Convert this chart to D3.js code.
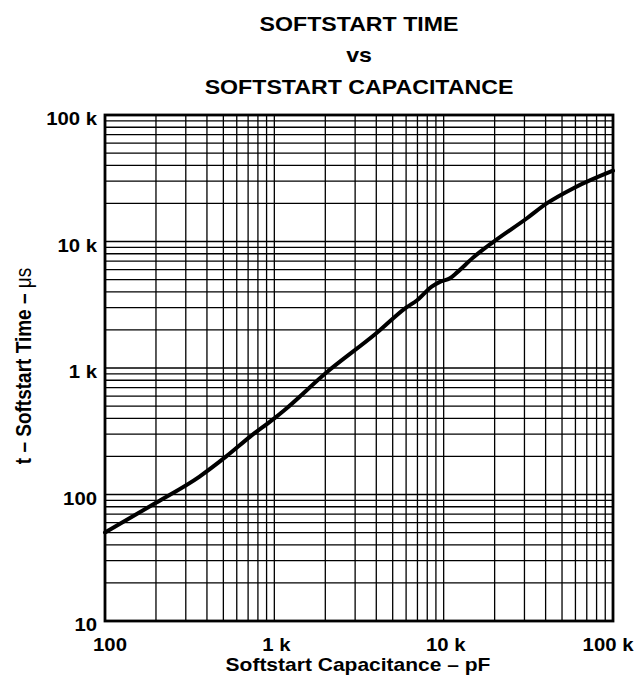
<!DOCTYPE html>
<html>
<head>
<meta charset="utf-8">
<script src="https://cdn.jsdelivr.net/npm/d3@7"></script>
<style>
  html, body { margin: 0; padding: 0; background: #fff; }
  text { font-family: "Liberation Sans", Arial, sans-serif; font-weight: bold; fill: #000; }
</style>
</head>
<body>
<svg id="chart" width="642" height="682"></svg>
<script>
// ---- data ----
const capacitancePF = [100, 200, 360, 520, 720, 1000, 1150, 2000, 4000, 6000, 7000, 8500, 9500, 10900, 12000, 15000, 19700, 30900, 40600, 58400, 100000];
const timeUs        = [50, 86, 138, 200, 287, 400, 466, 905, 1880, 3000, 3450, 4400, 4800, 5120, 5700, 7500, 9950, 15200, 20000, 26400, 36300];
const xTickValues = [100, 1000, 10000, 100000];
const xTickLabels = ["100", "1 k", "10 k", "100 k"];
const yTickValues = [10, 100, 1000, 10000, 100000];
const yTickLabels = ["10", "100", "1 k", "10 k", "100 k"];
const titleLines = ["SOFTSTART TIME", "vs", "SOFTSTART CAPACITANCE"];
const xAxisTitle = "Softstart Capacitance \u2013 pF";
const yAxisTitleMain = "t \u2013 Softstart Time \u2013 ";
const yAxisTitleUnit = "\u03BCs";

// ---- layout ----
const pL = 105, pR = 613, pT = 115, pB = 621;
const SX = 1.13; // horizontal stretch of glyphs in reference
const svg = d3.select("#chart");

const x = d3.scaleLog().domain([100, 100000]).range([pL, pR]);
const y = d3.scaleLog().domain([10, 100000]).range([pB, pT]);

// minor + major grid values
function logGrid(lo, hi) {
  const out = [];
  for (let d = lo; d < hi; d *= 10) {
    for (let m = 1; m <= 9; m++) out.push(d * m);
  }
  out.push(hi);
  return out;
}
const gx = logGrid(100, 100000);
const gy = logGrid(10, 100000);

const grid = svg.append("g").attr("stroke", "#000").attr("stroke-width", 1.3);
grid.selectAll("line.v").data(gx).join("line")
  .attr("class", "v")
  .attr("x1", d => x(d)).attr("x2", d => x(d))
  .attr("y1", pT).attr("y2", pB);
grid.selectAll("line.h").data(gy).join("line")
  .attr("class", "h")
  .attr("x1", pL).attr("x2", pR)
  .attr("y1", d => y(d)).attr("y2", d => y(d));

// frame
svg.append("rect")
  .attr("x", pL).attr("y", pT)
  .attr("width", pR - pL).attr("height", pB - pT)
  .attr("fill", "none").attr("stroke", "#000").attr("stroke-width", 2.8);

// curve
const pts = capacitancePF.map((c, i) => [c, timeUs[i]]);
const line = d3.line().x(d => x(d[0])).y(d => y(d[1])).curve(d3.curveMonotoneX);
svg.append("path").datum(pts)
  .attr("d", line)
  .attr("fill", "none").attr("stroke", "#000").attr("stroke-width", 4)
  .attr("stroke-linejoin", "round").attr("stroke-linecap", "round");

// helper for stretched text
function stext(g, tx, ty, str, size, anchor) {
  return g.append("text")
    .attr("transform", `translate(${tx},${ty}) scale(${SX},1)`)
    .attr("text-anchor", anchor)
    .attr("font-size", size)
    .text(str);
}

// y tick labels
const yl = svg.append("g");
yTickValues.forEach((v, i) => {
  stext(yl, pL - 8, y(v) + 10, yTickLabels[i], 18, "end");
});

// x tick labels
const xl = svg.append("g");
xTickValues.forEach((v, i) => {
  const dx = i === 0 ? 5 : (i === xTickValues.length - 1 ? -5 : 2);
  stext(xl, x(v) + dx, 651, xTickLabels[i], 18, "middle");
});

// title
const cx = (pL + pR) / 2;
const tb = [31, 62, 94];
titleLines.forEach((t, i) => stext(svg, cx, tb[i], t, 20.5, "middle"));

// x axis title
stext(svg, cx - 1, 671, xAxisTitle, 18.6, "middle");

// y axis title
const yt = svg.append("text")
  .attr("transform", `translate(31,${(pT + pB) / 2 - 2}) scale(${SX},1) rotate(-90)`)
  .attr("text-anchor", "middle")
  .attr("font-size", 19);
yt.append("tspan").text(yAxisTitleMain);
yt.append("tspan").attr("font-weight", "normal").text(yAxisTitleUnit);
</script>
</body>
</html>
